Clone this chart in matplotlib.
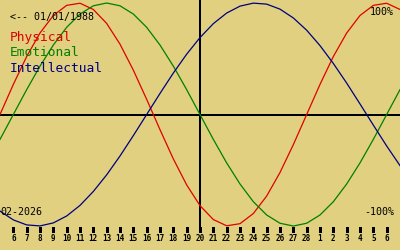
import matplotlib
matplotlib.use("Agg")
import matplotlib.pyplot as plt

# days shown: Feb 5 .. Mar 7 2026, as day number from Feb 1 (Mar 1 = 29)
days = list(range(5, 36))
physical = [0, 0.270, 0.520, 0.731, 0.888, 0.979, 0.998, 0.942, 0.817, 0.631,
            0.398, 0.136, -0.136, -0.398, -0.631, -0.817, -0.942, -0.998, -0.979, -0.888,
            -0.731, -0.520, -0.270, 0, 0.270, 0.520, 0.731, 0.888, 0.979, 0.998, 0.942]
emotional = [-0.223, 0, 0.223, 0.434, 0.623, 0.782, 0.901, 0.975, 1.0, 0.975,
             0.901, 0.782, 0.623, 0.434, 0.223, 0, -0.223, -0.434, -0.623, -0.782,
             -0.901, -0.975, -1.0, -0.975, -0.901, -0.782, -0.623, -0.434, -0.223, 0, 0.223]
intellectual = [-0.866, -0.945, -0.990, -0.999, -0.972, -0.910, -0.815, -0.690, -0.541, -0.372,
                -0.189, 0, 0.189, 0.372, 0.541, 0.690, 0.815, 0.910, 0.972, 0.999,
                0.990, 0.945, 0.866, 0.756, 0.618, 0.458, 0.282, 0.095, -0.095, -0.282, -0.458]

tick_days = list(range(6, 35))
tick_labels = [str(d) for d in range(6, 29)] + [str(d) for d in range(1, 7)]
today = 20
birth = "01/01/1988"
month = "02-2026"

bg = "#e0d080"
mono = "DejaVu Sans Mono"

fig = plt.figure(figsize=(4, 2.5), dpi=100, facecolor=bg)
ax = fig.add_axes([0, 0, 1, 1])
ax.set_facecolor(bg)
ax.axis("off")
ax.set_xlim(5, 35)
ax.set_ylim(-1.215, 1.027)

ax.axhline(0, color="black", lw=1.4, antialiased=False)
ax.vlines(today, -1.06, 1.1, color="black", lw=1.4, antialiased=False)
ax.vlines(tick_days, -1.058, -1.005, color="black", lw=0.8, antialiased=False)

ax.plot(days, physical, color="#e00000", lw=0.9)
ax.plot(days, emotional, color="#008000", lw=0.9)
ax.plot(days, intellectual, color="#000080", lw=0.9)

for d, lab in zip(tick_days, tick_labels):
    ax.text(d, -1.108, lab, ha="center", va="center", fontsize=5.5,
            fontweight="bold", family=mono)

tr = ax.transAxes
ax.text(10 / 400, 1 - 17 / 250, "<-- " + birth, transform=tr, fontsize=7.2,
        family=mono, va="center", ha="left")
ax.text(10 / 400, 1 - 38 / 250, "Physical", transform=tr, fontsize=9.3,
        family=mono, va="center", ha="left", color="#e00000")
ax.text(10 / 400, 1 - 53 / 250, "Emotional", transform=tr, fontsize=9.3,
        family=mono, va="center", ha="left", color="#008000")
ax.text(10 / 400, 1 - 68 / 250, "Intellectual", transform=tr, fontsize=9.3,
        family=mono, va="center", ha="left", color="#000080")
ax.text(394 / 400, 1 - 12 / 250, "100%", transform=tr, fontsize=7.2,
        family=mono, va="center", ha="right")
ax.text(394 / 400, 1 - 212 / 250, "-100%", transform=tr, fontsize=7.2,
        family=mono, va="center", ha="right")
ax.text(0, 1 - 212 / 250, month, transform=tr, fontsize=7.2,
        family=mono, va="center", ha="left")

fig.savefig("out.png", dpi=100, facecolor=bg)
